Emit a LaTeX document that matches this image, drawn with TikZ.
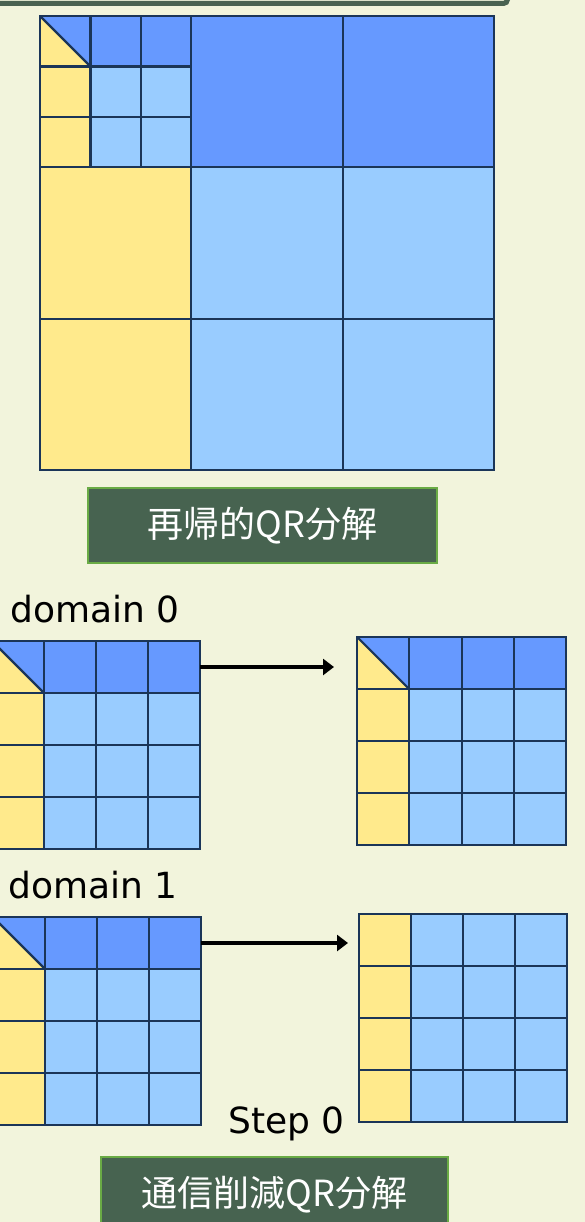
\documentclass[tikz,border=0pt]{standalone}
\usepackage{fontspec}
\setmainfont{DejaVu Sans}
\newfontfamily\jpfont{Noto Sans CJK JP}
\usetikzlibrary{arrows.meta,positioning}
\definecolor{paper}{HTML}{F2F4DC}
\definecolor{navy}{HTML}{1B3558}
\definecolor{qblue}{HTML}{6699FF}
\definecolor{rblue}{HTML}{99CCFF}
\definecolor{pivot}{HTML}{FFEA8C}
\definecolor{titlebg}{HTML}{476350}
\definecolor{titleedge}{HTML}{6AAB45}
\definecolor{frameedge}{HTML}{4A6251}

\begin{document}
\begin{tikzpicture}[
  x=1pt, y=-1pt,
  cell/.style={draw=navy, line width=2.2pt, minimum size=#1, inner sep=0pt, outer sep=0pt},
  gridline/.style={draw=navy, line width=2.2pt},
  title/.style={draw=titleedge, line width=2pt, fill=titlebg, text=white,
                font=\jpfont\fontsize{36}{40}\selectfont, minimum height=75pt, inner sep=0pt},
  lbl/.style={font=\fontsize{36}{40}\selectfont, anchor=base west, inner sep=0pt},
  arr/.style={line width=4.5pt, -{Triangle[length=11pt, width=16pt]}}
]

\fill[paper] (0,0) rectangle (585,1222);
\useasboundingbox (0,0) rectangle (585,1222);

\def\bs{151.33}
\def\ss{50.44}
\def\ms{52}
% diagonal block: yellow below, blue above
\def\splitcell#1{%
  \fill[pivot] (#1.north west) -- (#1.south west) -- (#1.south east) -- cycle;
  \draw[gridline] (#1.north west) -- (#1.south east);
  \draw[gridline] (#1.north west) rectangle (#1.south east);}

% ---- frame of the box above ---------------------------------------------
\draw[draw=frameedge, line width=5pt, rounded corners=4pt] (-10,-40) rectangle (507.5,3.5);

% ---- recursive QR -------------------------------------------------------
\foreach \r in {0,1,2}
  \foreach \c in {0,1,2} {
    \ifnum\r=0 \def\cc{qblue}\else\ifnum\c=0 \def\cc{pivot}\else\def\cc{rblue}\fi\fi
    \node[cell=\bs pt, fill=\cc] (big-\r-\c) at (40+\bs*\c+\bs/2, 16+\bs*\r+\bs/2) {};
  }
\foreach \r in {0,1,2}
  \foreach \c in {0,1,2} {
    \ifnum\r=0 \def\cc{qblue}\else\ifnum\c=0 \def\cc{pivot}\else\def\cc{rblue}\fi\fi
    \node[cell=\ss pt, fill=\cc] (sub-\r-\c) at (40+\ss*\c+\ss/2, 16+\ss*\r+\ss/2) {};
  }
\splitcell{sub-0-0}

\node[title, minimum width=349pt] (rqr) at (262.5,525.5) {再帰的QR分解};

% ---- domain 0 -----------------------------------------------------------
\node[lbl] (dom0) at (10,622) {domain 0};
\foreach \r in {0,...,3}
  \foreach \c in {0,...,3} {
    \ifnum\r=0 \def\cc{qblue}\else\ifnum\c=0 \def\cc{pivot}\else\def\cc{rblue}\fi\fi
    \node[cell=\ms pt, fill=\cc] (d0l-\r-\c) at (-8+\ms*\c+\ms/2, 641+\ms*\r+\ms/2) {};
    \node[cell=52.3pt, fill=\cc] (d0r-\r-\c) at (357+52.3*\c+26.15, 637+52*\r+26) {};
  }
\splitcell{d0l-0-0}
\splitcell{d0r-0-0}

% ---- domain 1 -----------------------------------------------------------
\node[lbl] (dom1) at (8,898) {domain 1};
\foreach \r in {0,...,3}
  \foreach \c in {0,...,3} {
    \ifnum\r=0 \def\cc{qblue}\else\ifnum\c=0 \def\cc{pivot}\else\def\cc{rblue}\fi\fi
    \node[cell=\ms pt, fill=\cc] (d1l-\r-\c) at (-7+\ms*\c+\ms/2, 917+\ms*\r+\ms/2) {};
    \ifnum\c=0 \def\cc{pivot}\else\def\cc{rblue}\fi
    \node[cell=\ms pt, fill=\cc] (d1r-\r-\c) at (359+\ms*\c+\ms/2, 914+\ms*\r+\ms/2) {};
  }
\splitcell{d1l-0-0}

% ---- exchange -----------------------------------------------------------
\coordinate (tip0) at (334,667);
\coordinate (tip1) at (348,943);
\draw[arr] (d0l-0-3.east) -- (tip0);
\draw[arr] (d1l-0-3.east) -- (tip1);

\node[lbl] (step0) at (228,1133) {Step 0};
\node[title, minimum width=347pt] (caqr) at (274.5,1194.5) {通信削減QR分解};

\end{tikzpicture}
\end{document}
